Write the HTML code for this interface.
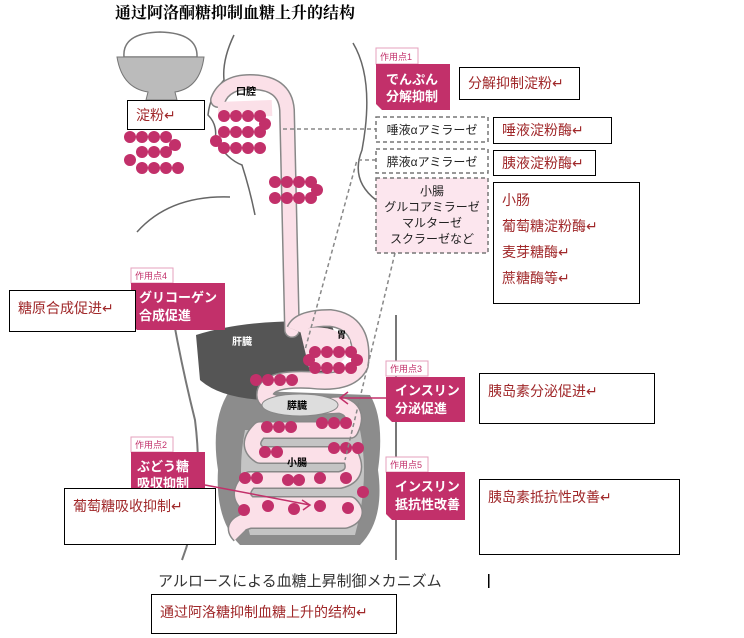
<!DOCTYPE html>
<html><head><meta charset="utf-8"><style>
body{margin:0;background:#fff;width:744px;height:638px;overflow:hidden;position:relative;font-family:"Liberation Sans","Noto Sans CJK SC",sans-serif}
.b{position:absolute;background:#fff;border:1px solid #000;color:#a0282a;font-size:14px;box-sizing:border-box;padding:4px 8px;line-height:26px}
</style></head><body>
<svg width="744" height="638" style="position:absolute;left:0;top:0" font-family="Liberation Sans,Noto Sans CJK JP,sans-serif">
<text x="115" y="18" font-size="16" font-weight="bold" font-family="Noto Serif CJK SC,serif">通过阿洛酮糖抑制血糖上升的结构</text>
<!-- bowl -->
<path d="M124 57 Q122 33 160 32 Q198 33 197 57 Z" fill="#fff" stroke="#777" stroke-width="1.5"/>
<path d="M117 57 H204 Q200 88 175 92 L177 100 H146 L148 92 Q122 88 117 57Z" fill="#bbb" stroke="#777"/>
<!-- head outline -->
<path d="M234 35 Q222 60 224 80 Q210 95 208 115 Q218 125 215 140 Q228 160 242 165 Q250 190 255 215" fill="none" stroke="#666" stroke-width="1.5"/>
<path d="M353 43 Q375 80 362 150 Q350 180 376 200" fill="none" stroke="#666" stroke-width="1.5"/>
<path d="M137 232 Q170 195 230 197" fill="none" stroke="#666" stroke-width="1.5"/>
<!-- body lines -->
<path d="M170 300 Q180 360 195 420 Q205 500 182 560" fill="none" stroke="#777" stroke-width="2"/>
<path d="M396 315 V560" fill="none" stroke="#777" stroke-width="2"/>
<!-- intestines -->
<path d="M230 390 Q210 420 218 470 Q215 520 240 545 H360 Q385 520 378 470 Q385 420 370 395 Z" fill="#8c8c8c"/>
<path d="M245 430 Q235 480 250 535 H355 Q370 480 360 430Z" fill="#c4c4c4"/>
<!-- liver -->
<path d="M196 335 Q250 318 330 322 Q345 350 325 378 Q290 380 265 400 Q220 398 200 380 Z" fill="#555"/>
<text x="232" y="345" font-size="10" fill="#fff" font-weight="bold">肝臓</text>
<!-- esophagus -->
<path d="M218 100 Q225 82 250 82 Q285 82 287 110 L292 330" fill="none" stroke="#888" stroke-width="16" stroke-linecap="round"/>
<path d="M218 100 Q225 82 250 82 Q285 82 287 110 L292 330" fill="none" stroke="#fbe0e8" stroke-width="13" stroke-linecap="round"/>
<path d="M218 110 L272 108" stroke="#fbe0e8" stroke-width="16"/>
<text x="236" y="95" font-size="10" font-weight="bold">口腔</text>
<!-- stomach + SI -->
<path d="M295 330 Q300 318 330 318 Q365 322 360 365 Q350 385 310 380 Q265 378 265 395 Q265 410 340 405 Q360 410 350 430 H260 Q245 445 260 455 H350 Q360 475 340 480 H250 Q235 495 250 505 H350 Q360 515 345 520 H250 Q230 525 240 535" fill="none" stroke="#888" stroke-width="18" stroke-linejoin="round"/>
<path d="M295 330 Q300 318 330 318 Q365 322 360 365 Q350 385 310 380 Q265 378 265 395 Q265 410 340 405 Q360 410 350 430 H260 Q245 445 260 455 H350 Q360 475 340 480 H250 Q235 495 250 505 H350 Q360 515 345 520 H250 Q230 525 240 535" fill="none" stroke="#fbe0e8" stroke-width="15" stroke-linejoin="round"/>
<path d="M300 330 Q330 322 350 340 Q350 370 310 372 Z" fill="#fbe0e8"/>
<ellipse cx="300" cy="405" rx="38" ry="11" fill="#ddd" stroke="#888"/>
<text x="287" y="409" font-size="10" font-weight="bold">膵臓</text>
<text x="287" y="466" font-size="10" font-weight="bold">小腸</text>
<text x="337" y="338" font-size="9" font-weight="bold">胃</text>
<!-- dots -->
<g fill="#c2306a">
<circle cx="130" cy="137" r="6"/><circle cx="142" cy="137" r="6"/><circle cx="154" cy="137" r="6"/><circle cx="166" cy="137" r="6"/><circle cx="175" cy="145" r="6"/>
<circle cx="142" cy="152" r="6"/><circle cx="154" cy="152" r="6"/><circle cx="166" cy="152" r="6"/><circle cx="130" cy="160" r="6"/>
<circle cx="142" cy="168" r="6"/><circle cx="154" cy="168" r="6"/><circle cx="166" cy="168" r="6"/><circle cx="178" cy="168" r="6"/>
<circle cx="224" cy="116" r="6"/><circle cx="236" cy="116" r="6"/><circle cx="248" cy="116" r="6"/><circle cx="260" cy="116" r="6"/><circle cx="265" cy="124" r="6"/>
<circle cx="224" cy="132" r="6"/><circle cx="236" cy="132" r="6"/><circle cx="248" cy="132" r="6"/><circle cx="260" cy="132" r="6"/><circle cx="216" cy="141" r="6"/>
<circle cx="224" cy="148" r="6"/><circle cx="236" cy="148" r="6"/><circle cx="248" cy="148" r="6"/><circle cx="260" cy="148" r="6"/>
<circle cx="275" cy="182" r="6"/><circle cx="287" cy="182" r="6"/><circle cx="299" cy="182" r="6"/><circle cx="311" cy="182" r="6"/><circle cx="317" cy="190" r="6"/>
<circle cx="275" cy="198" r="6"/><circle cx="287" cy="198" r="6"/><circle cx="299" cy="198" r="6"/><circle cx="311" cy="198" r="6"/>
<circle cx="315" cy="352" r="6"/><circle cx="327" cy="352" r="6"/><circle cx="339" cy="352" r="6"/><circle cx="351" cy="352" r="6"/><circle cx="357" cy="360" r="6"/><circle cx="309" cy="360" r="6"/>
<circle cx="315" cy="368" r="6"/><circle cx="327" cy="368" r="6"/><circle cx="339" cy="368" r="6"/><circle cx="351" cy="368" r="6"/>
<circle cx="256" cy="380" r="6"/><circle cx="268" cy="380" r="6"/><circle cx="280" cy="380" r="6"/><circle cx="292" cy="380" r="6"/>
<circle cx="267" cy="427" r="6"/><circle cx="279" cy="427" r="6"/><circle cx="291" cy="427" r="6"/><circle cx="322" cy="423" r="6"/><circle cx="334" cy="423" r="6"/><circle cx="346" cy="423" r="6"/>
<circle cx="265" cy="452" r="6"/><circle cx="277" cy="452" r="6"/><circle cx="334" cy="448" r="6"/><circle cx="346" cy="448" r="6"/><circle cx="358" cy="448" r="6"/>
<circle cx="245" cy="478" r="6"/><circle cx="257" cy="478" r="6"/><circle cx="288" cy="480" r="6"/><circle cx="299" cy="480" r="6"/><circle cx="320" cy="478" r="6"/><circle cx="346" cy="478" r="6"/><circle cx="363" cy="492" r="6"/>
<circle cx="244" cy="510" r="6"/><circle cx="268" cy="506" r="6"/><circle cx="294" cy="509" r="6"/><circle cx="320" cy="506" r="6"/><circle cx="348" cy="508" r="6"/>
</g>
<!-- dashed connectors -->
<g stroke="#888" stroke-width="1.5" stroke-dasharray="4,3" fill="none">
<path d="M283 129 H376"/><path d="M376 160 H357 L305 350"/><path d="M395 253 L345 460"/>
</g>
<g fill="#fce6ee" stroke="#777" stroke-width="1.5" stroke-dasharray="4,3">
<rect x="376" y="117" width="112" height="25" fill="#fff"/>
<rect x="376" y="149" width="112" height="24" fill="#fff"/>
<rect x="376" y="178" width="112" height="75"/>
</g>
<g font-size="12" text-anchor="middle" fill="#222">
<text x="432" y="134">唾液αアミラーゼ</text>
<text x="432" y="166">膵液αアミラーゼ</text>
<text x="432" y="195">小腸</text><text x="432" y="211">グルコアミラーゼ</text><text x="432" y="227">マルターゼ</text><text x="432" y="243">スクラーゼなど</text>
</g>
<!-- pink labels -->
<g font-size="9" fill="#c2306a">
<rect x="376" y="48" width="42" height="16" fill="#fff" stroke="#e6a0bd"/><text x="380" y="60">作用点1</text>
<rect x="131" y="268" width="42" height="15" fill="#fff" stroke="#e6a0bd"/><text x="135" y="279">作用点4</text>
<rect x="386" y="361" width="42" height="15" fill="#fff" stroke="#e6a0bd"/><text x="390" y="372">作用点3</text>
<rect x="131" y="437" width="42" height="15" fill="#fff" stroke="#e6a0bd"/><text x="135" y="448">作用点2</text>
<rect x="386" y="457" width="42" height="15" fill="#fff" stroke="#e6a0bd"/><text x="390" y="468">作用点5</text>
</g>
<g fill="#c2306a">
<path d="M376 64 H450 V110 H382 L376 104Z"/>
<path d="M131 283 H225 V330 H137 L131 324Z"/>
<path d="M386 377 H465 V422 H392 L386 416Z"/>
<path d="M131 452 H205 V500 H131Z"/>
<path d="M386 472 H465 V520 H392 L386 514Z"/>
</g>
<g font-size="13" font-weight="bold" fill="#fff">
<text x="386" y="84">でんぷん</text><text x="386" y="101">分解抑制</text>
<text x="139" y="302">グリコーゲン</text><text x="139" y="320">合成促進</text>
<text x="395" y="395">インスリン</text><text x="395" y="413">分泌促進</text>
<text x="137" y="471">ぶどう糖</text><text x="137" y="488">吸収抑制</text>
<text x="395" y="491">インスリン</text><text x="395" y="509">抵抗性改善</text>
</g>
<path d="M386 398 H340 M348 392 L340 398 L348 404" stroke="#c2306a" stroke-width="1.5" fill="none"/>
<path d="M205 485 L310 505 M302 500 L310 505 L303 510" stroke="#c2306a" stroke-width="1.5" fill="none"/>
<text x="158" y="586" font-size="15" fill="#333">アルロースによる血糖上昇制御メカニズム</text>
<rect x="488" y="574" width="1.5" height="14" fill="#000"/>
</svg>
<div class="b" style="left:127px;top:100px;width:78px;height:30px;line-height:20px">淀粉↵</div>
<div class="b" style="left:459px;top:67px;width:121px;height:33px;line-height:23px">分解抑制淀粉↵</div>
<div class="b" style="left:493px;top:117px;width:119px;height:27px;line-height:17px">唾液淀粉酶↵</div>
<div class="b" style="left:493px;top:150px;width:103px;height:26px;line-height:16px">胰液淀粉酶↵</div>
<div class="b" style="left:493px;top:182px;width:147px;height:122px">小肠<br>葡萄糖淀粉酶↵<br>麦芽糖酶↵<br>蔗糖酶等↵</div>
<div class="b" style="left:9px;top:290px;width:127px;height:42px">糖原合成促进↵</div>
<div class="b" style="left:479px;top:373px;width:176px;height:51px">胰岛素分泌促进↵</div>
<div class="b" style="left:64px;top:488px;width:152px;height:57px">葡萄糖吸收抑制↵</div>
<div class="b" style="left:479px;top:479px;width:201px;height:76px">胰岛素抵抗性改善↵</div>
<div class="b" style="left:151px;top:594px;width:246px;height:40px">通过阿洛糖抑制血糖上升的结构↵</div>
</body></html>
